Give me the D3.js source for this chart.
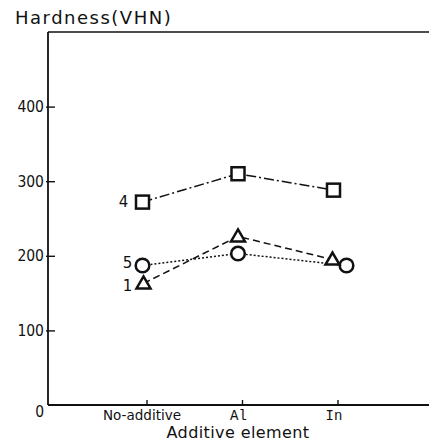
<!DOCTYPE html>
<html><head><meta charset="utf-8">
<script src="https://cdn.jsdelivr.net/npm/d3@7"></script>
<style>
html,body{margin:0;padding:0;background:#fff;}
svg{display:block;}
text{fill:#111;}
</style></head>
<body>
<svg id="c" width="429" height="442"></svg>
<script>
// ---- data ----
const categories = ["No-additive", "Al", "In"];
const yTicks = [0, 100, 200, 300, 400];
const seriesNames = ["4", "5", "1"];
const series4 = [272, 310, 288];   // squares
const series5 = [187, 203, 187];   // circles
const series1 = [163, 226, 195];   // triangles

(function () {
// ---- layout ----
const svg = d3.select("#c");
const mLeft = 48, mRight = 429, mTop = 32, mBottom = 405;
const x = d3.scaleLinear().domain([0, 4]).range([mLeft + 3, mLeft + 3 + 4 * 95.5]);
const y = d3.scaleLinear().domain([0, 500]).range([mBottom, mTop]);
const catIndex = c => categories.indexOf(c) + 1;

// frame: top line
svg.append("line").attr("x1", mLeft).attr("x2", mRight).attr("y1", mTop).attr("y2", mTop)
  .attr("stroke", "#111").attr("stroke-width", 1.6);

// y axis
const yAxis = d3.axisLeft(y).tickValues(yTicks).tickSize(-7).tickPadding(4).tickFormat(d3.format("d"));
const ya = svg.append("g").attr("transform", `translate(${mLeft},0)`).call(yAxis);
ya.select(".domain").attr("d", `M0,${mTop}V${mBottom}`).attr("stroke", "#111").attr("stroke-width", 1.8);
ya.selectAll(".tick line").attr("stroke", "#111").attr("stroke-width", 1.4).attr("x1", -2).attr("x2", 7);
ya.selectAll(".tick").filter(d => d === 0).select("line").remove();
ya.selectAll(".tick text").attr("font-family", "DejaVu Sans Condensed, DejaVu Sans").attr("font-size", 15.5).attr("fill", "#111");
ya.selectAll(".tick").filter(d => d === 0).select("text").attr("dy", "0.72em");

// x axis
const xAxis = d3.axisBottom(x).tickValues(categories.map(catIndex)).tickSize(-5).tickPadding(5)
  .tickFormat(i => categories[i - 1]);
const xa = svg.append("g").attr("transform", `translate(0,${mBottom})`).call(xAxis);
xa.select(".domain").attr("d", `M${mLeft},0H${mRight}`).attr("stroke", "#111").attr("stroke-width", 1.8);
xa.selectAll(".tick line").attr("stroke", "#111").attr("stroke-width", 1.4);
xa.selectAll(".tick text").attr("fill", "#111")
  .attr("font-family", d => d === 1 ? "DejaVu Sans" : "Liberation Mono")
  .attr("font-size", d => d === 1 ? 13.5 : 14)
  .attr("dx", d => d === 1 ? -5 : -4);

// titles
svg.append("text").attr("x", 15).attr("y", 24).text("Hardness(VHN)")
  .attr("font-family", "DejaVu Sans").attr("font-size", 18).attr("letter-spacing", 1.5);
svg.append("text").attr("x", 238).attr("y", 438).attr("text-anchor", "middle").text("Additive element")
  .attr("font-family", "DejaVu Sans").attr("font-size", 16).attr("letter-spacing", 0.4);

// series
const markerShift = -4;
const seriesDefs = [
  {name: seriesNames[0], values: series4, shape: "square", dash: "10,3,2,3", nudge: [0, 0, 0], lab: [-19, 0]},
  {name: seriesNames[1], values: series5, shape: "circle", dash: "2,2", nudge: [0, 0, 13], lab: [-15, -3]},
  {name: seriesNames[2], values: series1, shape: "triangle", dash: "7,4", nudge: [1, 0, -1], lab: [-16, 2]},
];

seriesDefs.forEach(s => {
  const pts = s.values.map((v, i) => [x(i + 1) + markerShift + s.nudge[i], y(v)]);
  svg.append("path").attr("d", d3.line()(pts)).attr("fill", "none")
    .attr("stroke", "#111").attr("stroke-width", 1.5).attr("stroke-dasharray", s.dash);
});
seriesDefs.forEach(s => {
  const pts = s.values.map((v, i) => [x(i + 1) + markerShift + s.nudge[i], y(v)]);
  pts.forEach(p => {
    let m;
    if (s.shape === "square") {
      m = svg.append("rect").attr("x", p[0] - 6.5).attr("y", p[1] - 6.5).attr("width", 13).attr("height", 13);
    } else if (s.shape === "circle") {
      m = svg.append("circle").attr("cx", p[0]).attr("cy", p[1]).attr("r", 6.8);
    } else {
      m = svg.append("path").attr("d", `M${p[0]},${p[1] - 7}L${p[0] + 7},${p[1] + 5}L${p[0] - 7},${p[1] + 5}Z`);
    }
    m.attr("fill", "#fff").attr("stroke", "#111").attr("stroke-width", 2.5);
  });
  svg.append("text").attr("x", pts[0][0] + s.lab[0]).attr("y", pts[0][1] + s.lab[1])
    .attr("dy", "0.36em").attr("text-anchor", "middle").text(s.name)
    .attr("font-family", "DejaVu Sans").attr("font-size", 15);
});
})();
</script>
</body></html>
